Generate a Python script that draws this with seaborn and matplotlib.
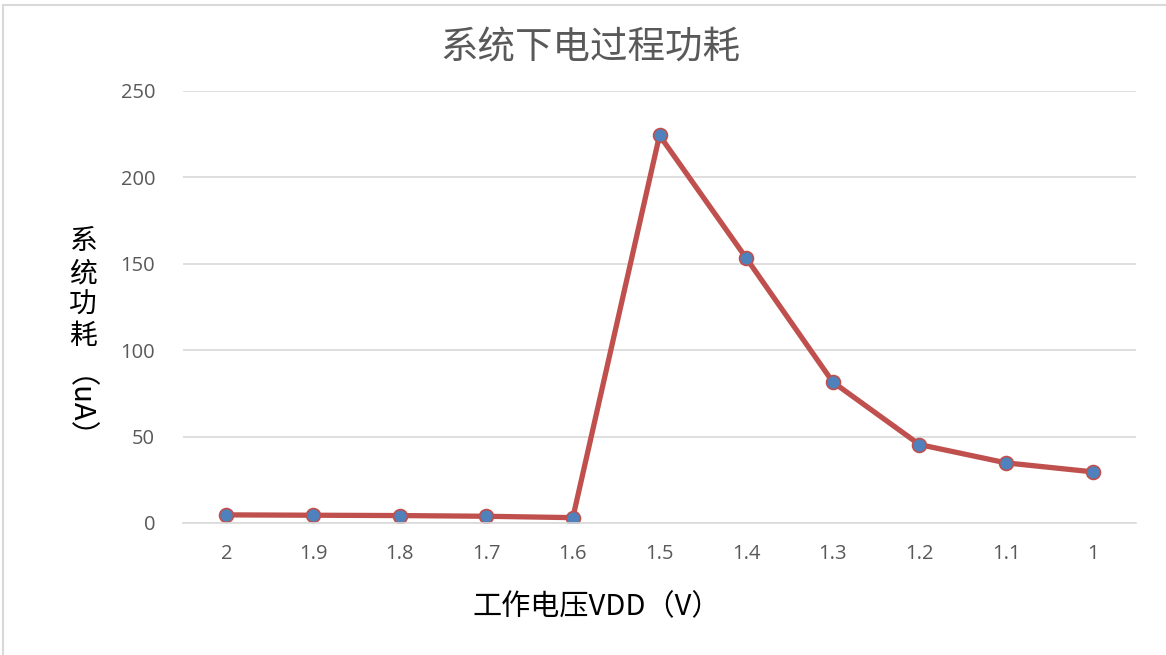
import matplotlib
matplotlib.use("Agg")
import matplotlib.pyplot as plt
import seaborn as sns
import pandas as pd
from matplotlib.lines import Line2D

voltages = ["2", "1.9", "1.8", "1.7", "1.6", "1.5", "1.4", "1.3", "1.2", "1.1", "1"]
power = [4.7, 4.5, 4.3, 3.9, 3.1, 224.3, 153.4, 81.6, 45.4, 34.8, 29.6]
yticks = [0, 50, 100, 150, 200, 250]

title = "系统下电过程功耗"
xlabel = "工作电压VDD（V）"
ylabel_chars = ["系", "统", "功", "耗"]
ylabel_unit = "（uA）"

sns.set_theme(style="white")
plt.rcParams["font.family"] = ["Noto Sans CJK SC", "DejaVu Sans"]

df = pd.DataFrame({"v": voltages, "p": power})

fig = plt.figure(figsize=(11.66, 6.55), dpi=100)
ax = fig.add_axes([183/1166, 1-523/655, (1136-183)/1166, (523-91)/655])

sns.lineplot(data=df, x="v", y="p", ax=ax, color="#C0504D", linewidth=3.8,
             marker="o", markersize=10, markerfacecolor="#4F81BD",
             markeredgecolor="#C0504D", markeredgewidth=1.2, sort=False)

ax.set_xlim(-0.5, len(voltages) - 0.5)
ax.set_ylim(0, 250)
ax.set_yticks(yticks)
ax.set_yticklabels([str(t) for t in yticks])
ax.yaxis.grid(True, color="#D9D9D9", linewidth=1.2)
ax.xaxis.grid(False)
for s in ["top", "right", "left"]:
    ax.spines[s].set_visible(False)
ax.spines["bottom"].set_color("#D9D9D9")
ax.spines["bottom"].set_linewidth(1.2)
ax.tick_params(axis="both", length=0, labelsize=14.5, labelcolor="#595959")
ax.tick_params(axis="x", pad=15)
ax.tick_params(axis="y", pad=20)
for lab in ax.get_yticklabels() + ax.get_xticklabels():
    lab.set_family(["Open Sans", "DejaVu Sans"])
ax.set_xlabel("")
ax.set_ylabel("")

fig.text(590/1166, 1-48/655, title, ha="center", va="center", fontsize=27, color="#595959")
fig.text(597/1166, 1-607/655, xlabel, ha="center", va="center", fontsize=21, color="black")

ys = [241, 274, 305, 336]
for ch, y in zip(ylabel_chars, ys):
    fig.text(83/1166, 1-y/655, ch, ha="center", va="center", fontsize=20, color="black")
fig.text(62/1166, 1-423/655, ylabel_unit, ha="center", va="center", fontsize=21,
         color="black", rotation=-90)

# light frame lines at top and left
fig.add_artist(Line2D([3/1166, 1], [1-5/655, 1-5/655], transform=fig.transFigure, color="#D9D9D9", linewidth=1.5))
fig.add_artist(Line2D([3/1166, 3/1166], [0, 1-5/655], transform=fig.transFigure, color="#D9D9D9", linewidth=1.5))

fig.savefig("out.png", dpi=100)
